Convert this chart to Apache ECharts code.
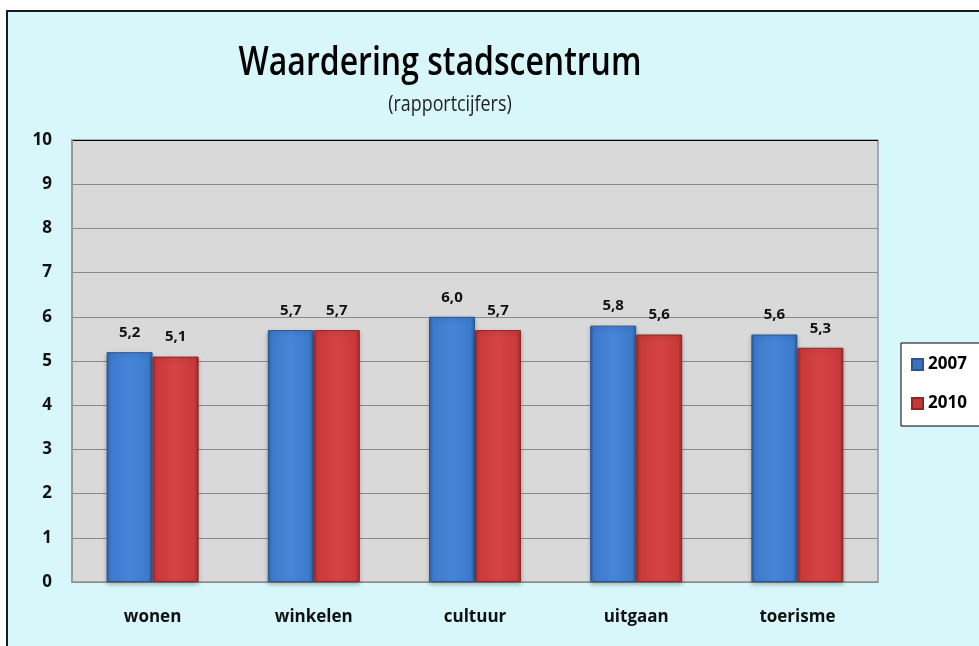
<!DOCTYPE html>
<html>
<head>
<meta charset="utf-8">
<script src="https://cdn.jsdelivr.net/npm/echarts@6/dist/echarts.min.js"></script>
<style>
  html, body { margin: 0; padding: 0; background: #ffffff; }
  #chart { width: 979px; height: 646px; }
</style>
</head>
<body>
<div id="chart"></div>
<script>
const categories = ['wonen', 'winkelen', 'cultuur', 'uitgaan', 'toerisme'];
const seriesNames = ['2007', '2010'];
const values2007 = [5.2, 5.7, 6.0, 5.8, 5.6];
const values2010 = [5.1, 5.7, 5.7, 5.6, 5.3];
const yTicks = [0, 1, 2, 3, 4, 5, 6, 7, 8, 9, 10];
const titleText = 'Waardering stadscentrum';
const subtitleText = '(rapportcijfers)';

const font = "'Open Sans', 'DejaVu Sans', sans-serif";

function barGradient(edge, mid, light) {
  return new echarts.graphic.LinearGradient(0, 0, 1, 0, [
    { offset: 0, color: edge },
    { offset: 0.08, color: mid },
    { offset: 0.5, color: light },
    { offset: 0.92, color: mid },
    { offset: 1, color: edge }
  ]);
}

const blue = barGradient('#2c5d9e', '#3d7acb', '#4785d8');
const red = barGradient('#9e2a2a', '#c93a3a', '#d64343');

// split line colours: grey lines, black line at the top (10)
const splitColors = yTicks.map(v => v === 10 ? '#000000' : '#8a8a8a');

const labelFmt = p => p.value.toFixed(1).replace('.', ',');

const chart = echarts.init(document.getElementById('chart'));
chart.setOption({
  backgroundColor: '#ffffff',
  animation: false,
  graphic: [{
    type: 'rect',
    shape: { x: 7, y: 11, width: 1000, height: 700 },
    style: { fill: '#d7f7fa', stroke: '#1a1a1a', lineWidth: 2 },
    z: -10
  }, {
    // title is drawn a bit narrow, like the squeezed original
    type: 'text',
    x: 440, y: 64, scaleX: 0.8,
    style: {
      text: titleText, x: 0, y: 0,
      textAlign: 'center', textVerticalAlign: 'middle',
      fontFamily: font, fontSize: 40, fontWeight: 600, fill: '#000'
    }
  }, {
    type: 'text',
    x: 450, y: 105, scaleX: 0.85,
    style: {
      text: subtitleText, x: 0, y: 0,
      textAlign: 'center', textVerticalAlign: 'middle',
      fontFamily: font, fontSize: 21, fontWeight: 'normal', fill: '#222'
    }
  }],
  legend: {
    orient: 'vertical',
    left: 901, top: 343,
    padding: [13, 14, 14, 10],
    itemGap: 22,
    itemWidth: 11, itemHeight: 11,
    backgroundColor: '#ffffff',
    borderColor: '#000000', borderWidth: 1,
    textStyle: { fontFamily: font, fontSize: 17, fontWeight: 'bold', color: '#000' },
    data: [
      { name: seriesNames[0], icon: 'rect', itemStyle: { color: '#3a72bf' } },
      { name: seriesNames[1], icon: 'rect', itemStyle: { color: '#c53838' } }
    ]
  },
  grid: {
    left: 72, top: 140, right: 101, bottom: 64,
    show: true, backgroundColor: '#d9d9d9',
    borderColor: '#6e6e6e', borderWidth: 1
  },
  xAxis: {
    type: 'category',
    data: categories,
    axisLine: { lineStyle: { color: '#8a8a8a', width: 1 } },
    axisTick: { show: false },
    axisLabel: { margin: 27, fontFamily: font, fontSize: 17, fontWeight: 'bold', color: '#111' }
  },
  yAxis: {
    type: 'value',
    min: 0, max: 10, interval: 1,
    axisLine: { show: true, lineStyle: { color: '#9a9a9a', width: 2 } },
    axisTick: { show: false },
    axisLabel: { margin: 20, fontFamily: font, fontSize: 17, fontWeight: 'bold', color: '#111' },
    splitLine: { show: true, lineStyle: { color: splitColors, width: 1 } }
  },
  series: [{
    name: seriesNames[0],
    type: 'bar',
    data: values2007,
    barWidth: 46,
    barGap: '0%',
    itemStyle: { color: blue, borderColor: '#2a5690', borderWidth: 1, shadowColor: 'rgba(0,0,0,0.25)', shadowBlur: 4, shadowOffsetY: 2 },
    label: {
      show: true, position: 'top', distance: 12,
      fontFamily: font, fontSize: 15, fontWeight: 'bold', color: '#111',
      formatter: labelFmt
    }
  }, {
    name: seriesNames[1],
    type: 'bar',
    data: values2010,
    barWidth: 46,
    itemStyle: { color: red, borderColor: '#8e2626', borderWidth: 1, shadowColor: 'rgba(0,0,0,0.25)', shadowBlur: 4, shadowOffsetY: 2 },
    label: {
      show: true, position: 'top', distance: 12,
      fontFamily: font, fontSize: 15, fontWeight: 'bold', color: '#111',
      formatter: labelFmt
    }
  }]
});
</script>
</body>
</html>
